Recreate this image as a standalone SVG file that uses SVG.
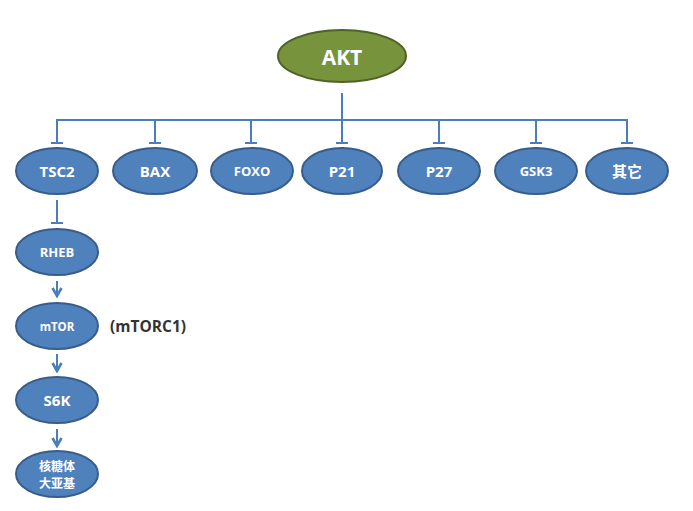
<svg xmlns="http://www.w3.org/2000/svg" width="693" height="511" viewBox="0 0 693 511">
<defs>
<style>
.b{fill:#4F81BD;stroke:#385D8A;stroke-width:2}
.g{fill:#77933C;stroke:#4F6228;stroke-width:2}
.t{fill:#fff;font-family:"Open Sans","Liberation Sans","Noto Sans CJK SC",sans-serif;font-weight:bold;text-anchor:middle;dominant-baseline:central}
.c{fill:none;stroke:#4A7EBB;stroke-width:2}
</style>
<marker id="ar" viewBox="0 0 12 12" refX="10" refY="6" markerWidth="12" markerHeight="12" orient="auto" markerUnits="userSpaceOnUse">
<path d="M2,1.5 L10,6 L2,10.5" fill="none" stroke="#4A7EBB" stroke-width="2.6" stroke-linejoin="miter"/>
</marker>
</defs>
<rect width="693" height="511" fill="#fff"/>
<g id="connectors">
<path class="c" d="M342,93 V143"/>
<path class="c" d="M57,143 V120 H627 V143"/>
<path class="c" d="M155,120 V143 M251,120 V143 M439,120 V143 M536,120 V143"/>
<path class="c" d="M51,143 H63 M149,143 H161 M245,143 H257 M336,143 H348 M433,143 H445 M530,143 H542 M621,143 H633"/>
<path class="c" d="M57,200 V223 M51,223 H63"/>
<path class="c" d="M57,281 V296" marker-end="url(#ar)"/>
<path class="c" d="M57,354 V371" marker-end="url(#ar)"/>
<path class="c" d="M57,429 V446" marker-end="url(#ar)"/>
</g>
<g id="akt"><ellipse class="g" cx="342" cy="56" rx="64" ry="26"/><text class="t" x="342" y="57" font-size="21">AKT</text></g>
<g id="tsc2"><ellipse class="b" cx="57" cy="171" rx="41" ry="23"/><text class="t" x="57" y="171" font-size="15">TSC2</text></g>
<g id="bax"><ellipse class="b" cx="155" cy="171" rx="42" ry="23"/><text class="t" x="155" y="171" font-size="15">BAX</text></g>
<g id="foxo"><ellipse class="b" cx="252" cy="171" rx="41" ry="23"/><text class="t" x="252" y="171" font-size="13">FOXO</text></g>
<g id="p21"><ellipse class="b" cx="342" cy="171" rx="40" ry="23"/><text class="t" x="342" y="171" font-size="15">P21</text></g>
<g id="p27"><ellipse class="b" cx="439" cy="171" rx="41" ry="23"/><text class="t" x="439" y="171" font-size="15">P27</text></g>
<g id="gsk3"><ellipse class="b" cx="536" cy="171" rx="41" ry="23"/><text class="t" x="536" y="171" font-size="13">GSK3</text></g>
<g id="other"><ellipse class="b" cx="627" cy="171" rx="41" ry="23"/><text class="t" x="627" y="171" font-size="15">其它</text></g>
<g id="rheb"><ellipse class="b" cx="57" cy="252" rx="41" ry="23"/><text class="t" x="57" y="252" font-size="13">RHEB</text></g>
<g id="mtor"><ellipse class="b" cx="57" cy="326" rx="41" ry="23"/><text class="t" x="57" y="326" font-size="11.5">mTOR</text></g>
<text x="110" y="326" font-family="'Open Sans','Liberation Sans',sans-serif" font-weight="bold" font-size="15.5" fill="#333" dominant-baseline="central">(mTORC1)</text>
<g id="s6k"><ellipse class="b" cx="57" cy="400" rx="41" ry="23"/><text class="t" x="57" y="400" font-size="15">S6K</text></g>
<g id="ribosome"><ellipse class="b" cx="57" cy="474" rx="41" ry="23"/><text class="t" x="57" y="466" font-size="12">核糖体</text><text class="t" x="57" y="483" font-size="12">大亚基</text></g>
</svg>
